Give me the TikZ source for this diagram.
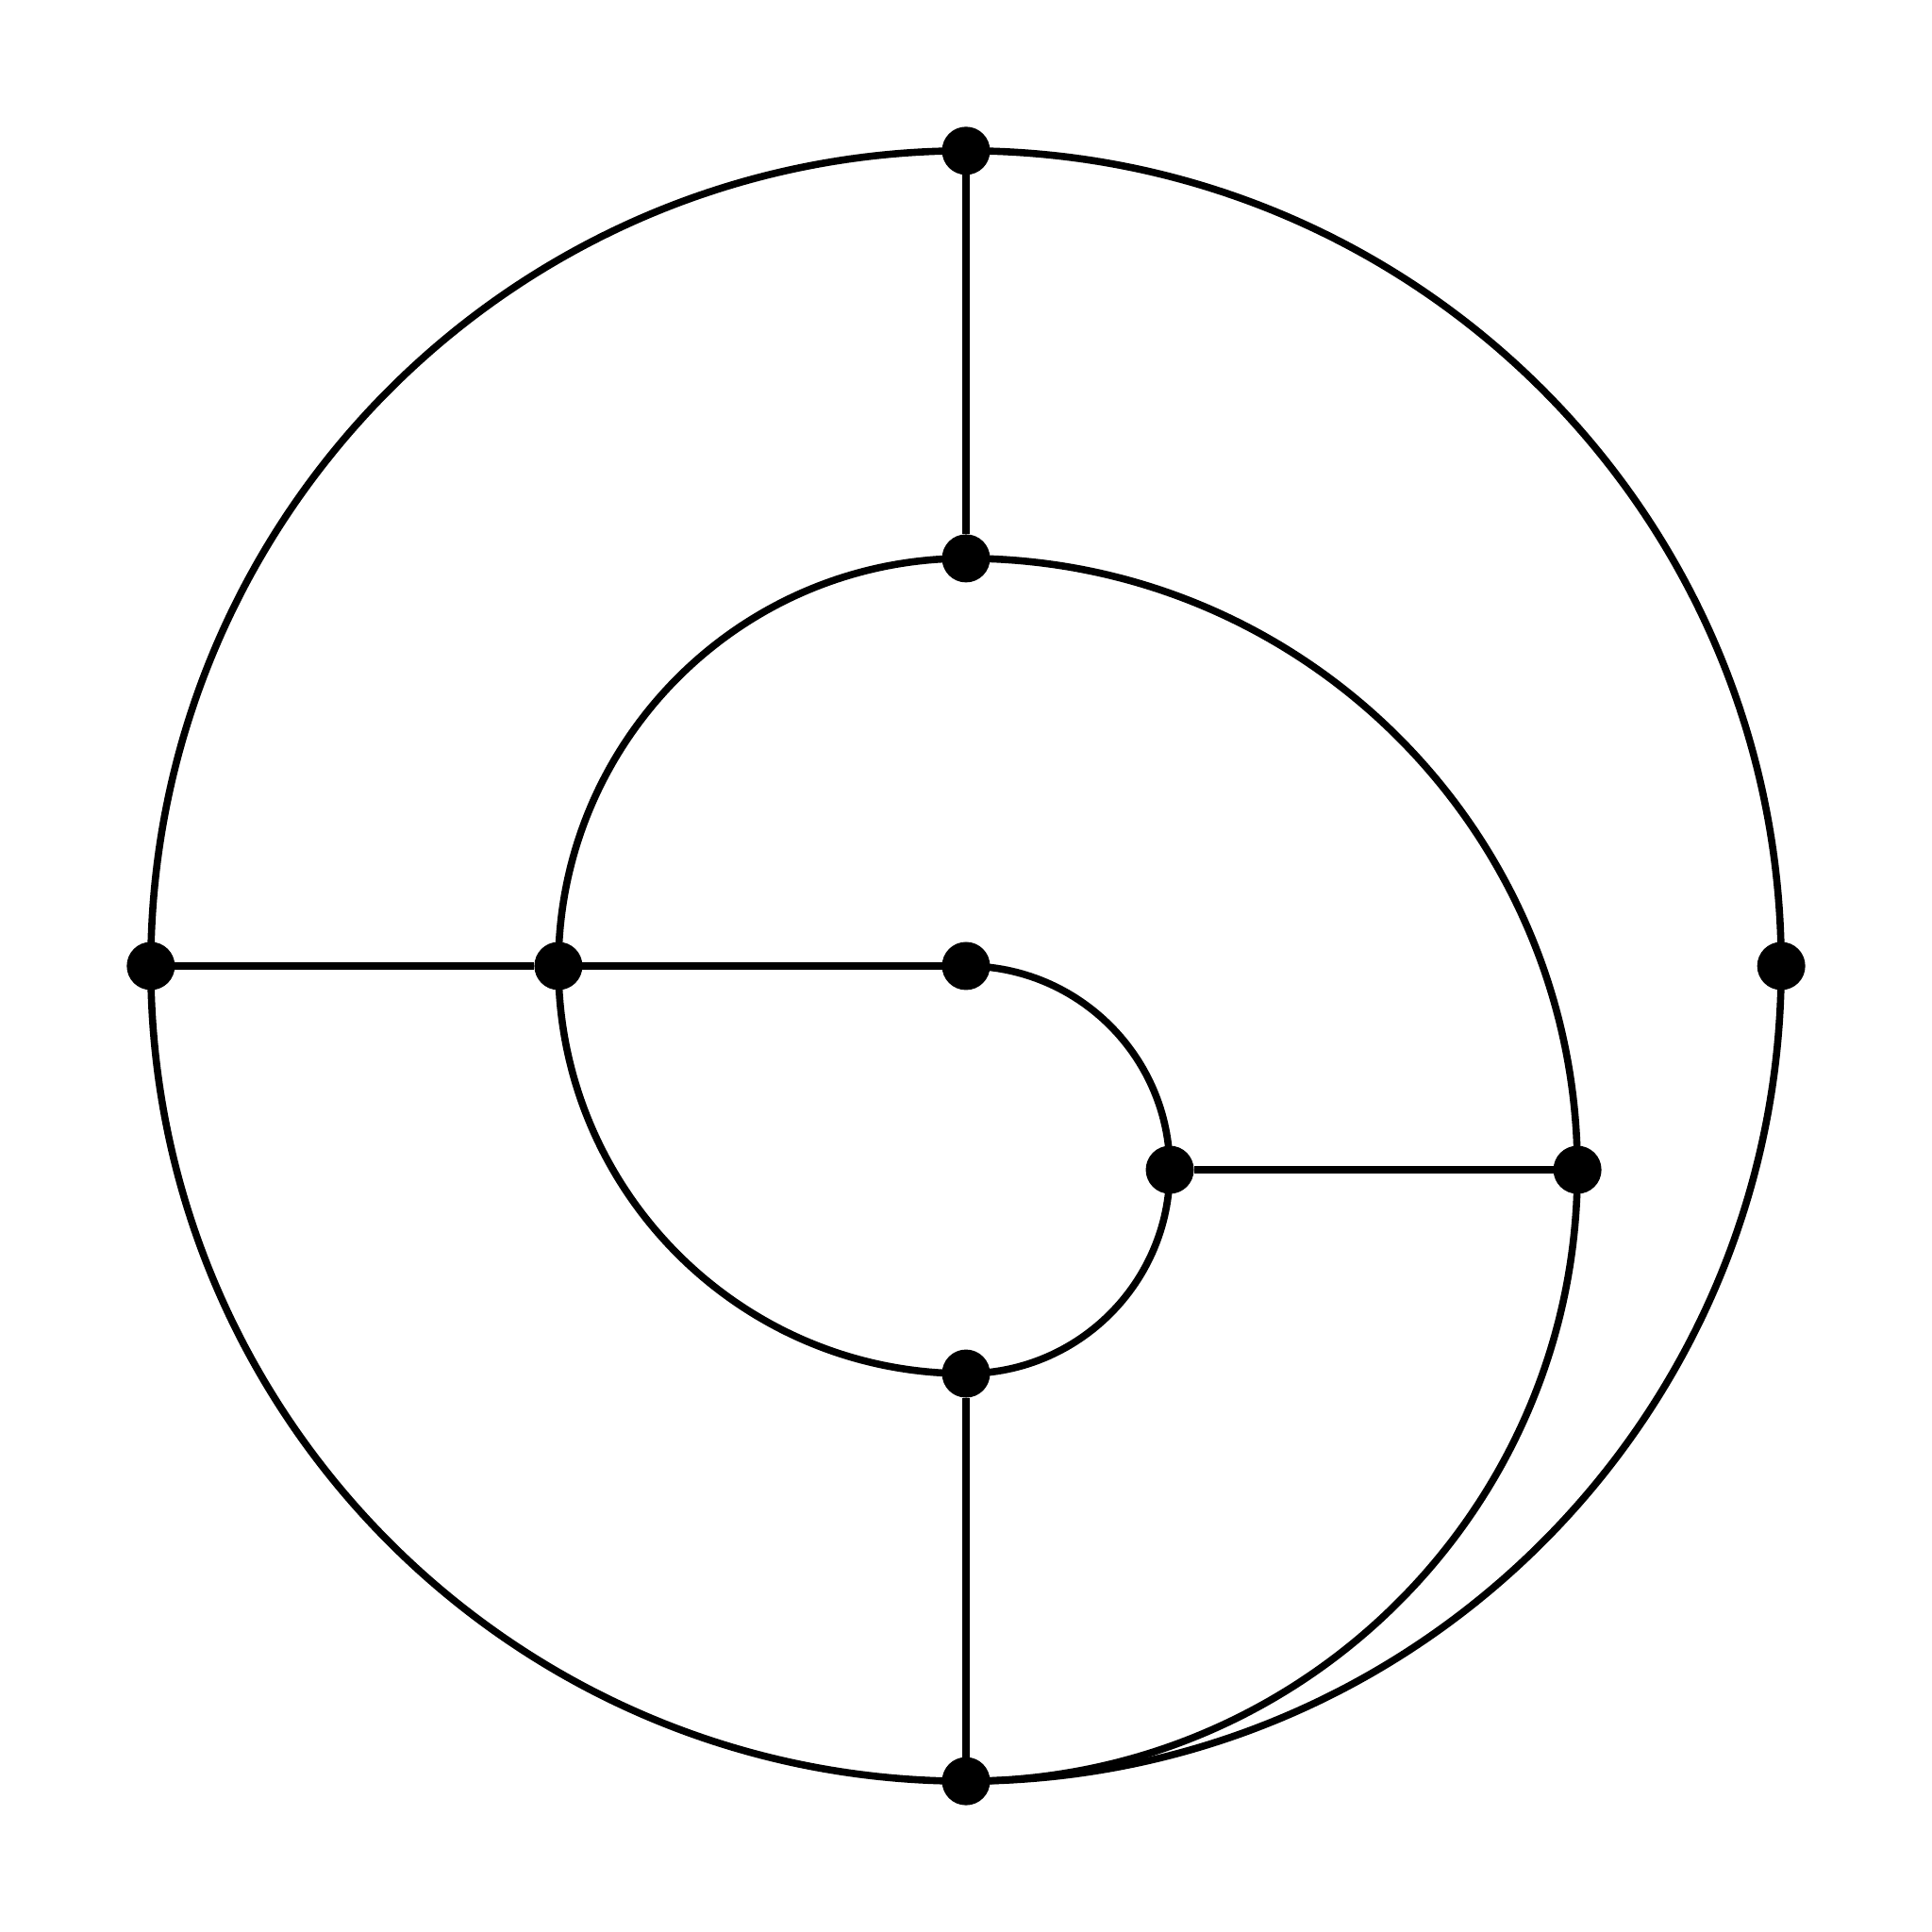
\documentclass[tikz,border=0pt]{standalone}
\usepackage{tikz}

\begin{document}
\begin{tikzpicture}[line width=1pt,dot/.style={circle,fill,inner sep=0pt,outer sep=0pt,minimum size=0.236cm}]

\useasboundingbox(-4.74,-4.74)rectangle(4.74,4.74);

\node[dot](v0)at(0,4){};
\node[dot](v1)at(-4,0){};
\node[dot](v2)at(4,0){};
\node[dot](v3)at(0,-4){};
\node[dot](v4)at(0,2){};
\node[dot](v5)at(-2,0){};
\node[dot](v6)at(0,0){};
\node[dot](v7)at(1,-1){};
\node[dot](v8)at(3,-1){};
\node[dot](v9)at(0,-2){};

\path(v0)edge(v4)
	(v1)edge(v5)
	(v5)edge(v6)
	(v9)edge(v3)
	(v7)edge(v8);

\draw(v0.center)arc[start angle=90,end angle=450,radius=4];
\draw(v4.center)arc[start angle=90,end angle=270,radius=2];
\draw(v6.center)arc[start angle=90,end angle=-90,radius=1];
\draw(v4.center)arc[start angle=90,end angle=-90,radius=3];

\end{tikzpicture}
\end{document}
